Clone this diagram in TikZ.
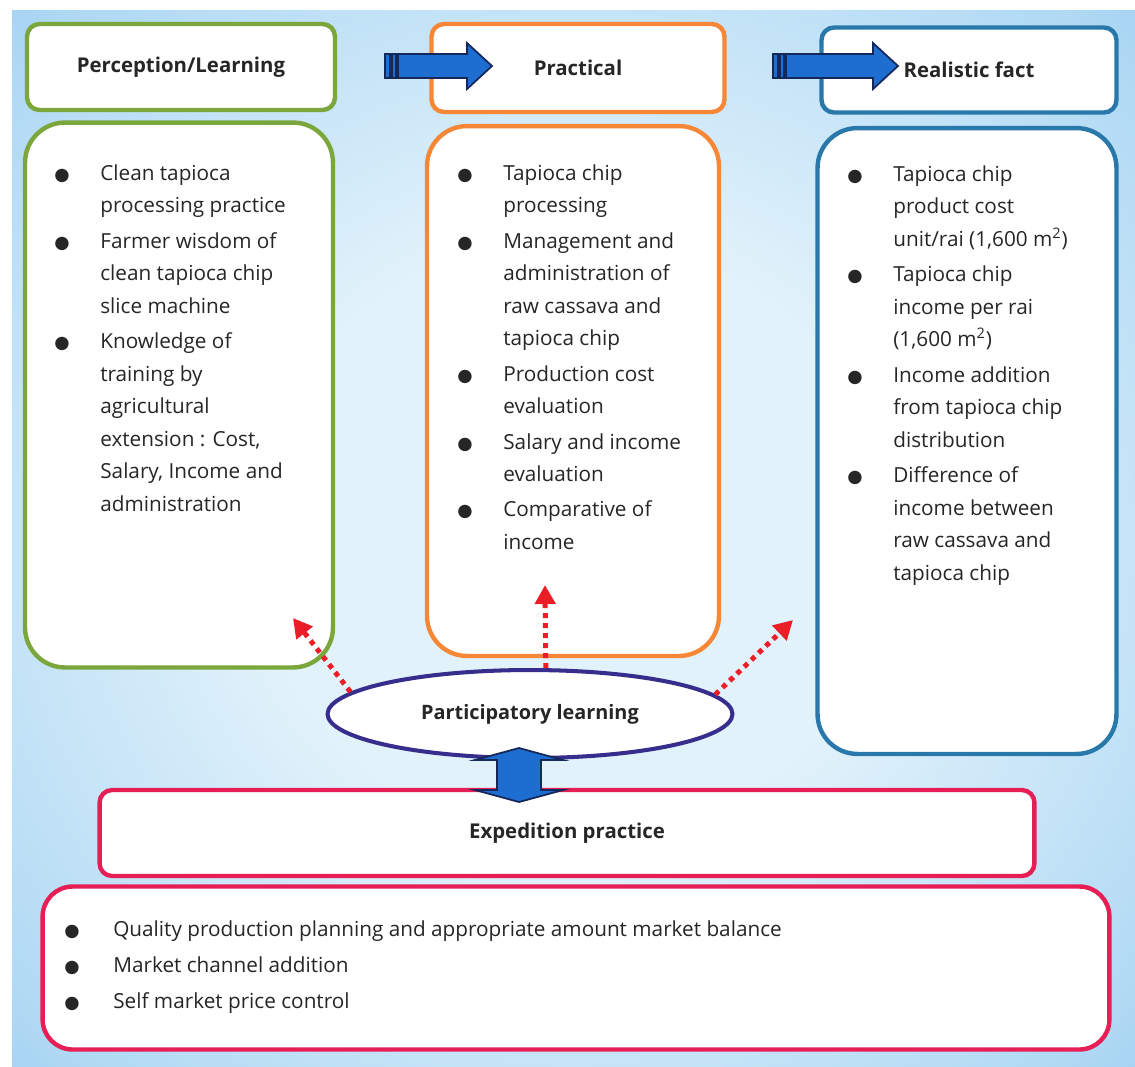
\documentclass[tikz,border=0pt]{standalone}
\usepackage{fontspec}
\setmainfont{Open Sans}
\newfontfamily\symfnt{DejaVu Sans}
\usetikzlibrary{arrows.meta,shapes.geometric}
\definecolor{leafgreen}{RGB}{122,166,60}
\definecolor{tangerine}{RGB}{245,135,55}
\definecolor{steelblue}{RGB}{40,120,170}
\definecolor{rosered}{RGB}{230,30,85}
\definecolor{ellnavy}{RGB}{55,45,140}
\definecolor{arrblue}{RGB}{30,110,210}
\definecolor{arrnavy}{RGB}{20,40,90}
\definecolor{dotred}{RGB}{235,30,40}
\definecolor{inktext}{RGB}{38,38,38}
\definecolor{bginner}{RGB}{226,242,251}
\definecolor{bgmid}{RGB}{176,217,244}
\definecolor{bgedge}{RGB}{115,183,231}
\definecolor{bgouter}{RGB}{75,155,216}
\pgfdeclareradialshading{bgglow}{\pgfpoint{0bp}{0bp}}{color(0bp)=(bginner); color(14bp)=(bginner); color(33bp)=(bgmid); color(50bp)=(bgedge); color(72bp)=(bgouter)}
\newcommand\bul{{\symfnt\fontsize{10pt}{10pt}\selectfont ●}}
\newcommand\stripearrow[2]{% tail coordinate, shaft length
  \filldraw[blockarr] (#1) ++(0,-12) rectangle ++(5,24);
  \filldraw[blockarr] (#1) ++(7,-12) rectangle ++(4,24);
  \filldraw[blockarr] (#1) ++(13,-12) -- ++(#2,0) -- ++(0,-11) -- ++(25,23) -- ++(-25,23) -- ++(0,-11) -- ++(-#2,0) -- cycle;}
\tikzset{
  hdr/.style={draw=#1, fill=white, line width=2.5pt, rounded corners=0.25cm, font=\fontsize{11.6pt}{14pt}\selectfont\bfseries},
  pane/.style={draw=#1, fill=white, line width=2.5pt, rounded corners=0.8cm},
  lst/.style={anchor=base west, inner sep=0pt, align=left, font=\fontsize{11.8pt}{18.5pt}\selectfont},
  dotarr/.style={draw=dotred, line width=0.1cm, dash pattern=on 0.1cm off 0.1cm, -{Triangle[length=0.38cm,width=0.4cm]}},
  blockarr/.style={fill=arrblue, draw=arrnavy, line width=1pt},
}

\begin{document}
\begin{tikzpicture}[x=0.02cm, y=-0.02cm, text=inktext]
  \useasboundingbox (0,0) rectangle (1135,1066);
  \fill[white] (0,0) rectangle (1135,1066);
  \shade[shading=bgglow] (12,10) rectangle (1135,1066);
  % headers
  \node[hdr=leafgreen, minimum width=6.16cm, minimum height=1.72cm] (perc) at (181,67) {Perception/Learning};
  \node[hdr=tangerine, minimum width=5.86cm, minimum height=1.76cm] (prac) at (578,68) {Practical};
  \node[hdr=steelblue, minimum width=5.9cm, minimum height=1.7cm] (real) at (969,70) {Realistic fact};
  % panes
  \node[pane=leafgreen, minimum width=6.16cm, minimum height=10.9cm] (percpane) at (179,395) {};
  \node[pane=tangerine, minimum width=5.84cm, minimum height=10.6cm] (pracpane) at (573,391) {};
  \node[pane=steelblue, minimum width=5.98cm, minimum height=12.52cm] (realpane) at (967,441) {};
  \node[lst] (perclist) at (54,180) {\begin{tabular}[t]{@{}p{0.92cm}@{}l@{}}
    \bul & Clean tapioca\\ & processing practice\\[1.7pt]
    \bul & Farmer wisdom of\\ & clean tapioca chip\\ & slice machine\\[1.7pt]
    \bul & Knowledge of\\ & training by\\ & agricultural\\ & extension : Cost,\\ & Salary, Income and\\ & administration
  \end{tabular}};
  \node[lst] (praclist) at (457,180) {\begin{tabular}[t]{@{}p{0.92cm}@{}l@{}}
    \bul & Tapioca chip\\ & processing\\[1.7pt]
    \bul & Management and\\ & administration of\\ & raw cassava and\\ & tapioca chip\\[1.7pt]
    \bul & Production cost\\ & evaluation\\[1.7pt]
    \bul & Salary and income\\ & evaluation\\[1.7pt]
    \bul & Comparative of\\ & income
  \end{tabular}};
  \node[lst] (reallist) at (847,181) {\begin{tabular}[t]{@{}p{0.92cm}@{}l@{}}
    \bul & Tapioca chip\\ & product cost\\ & unit/rai (1,600 m\textsuperscript{2})\\[1.7pt]
    \bul & Tapioca chip\\ & income per rai\\ & (1,600 m\textsuperscript{2})\\[1.7pt]
    \bul & Income addition\\ & from tapioca chip\\ & distribution\\[1.7pt]
    \bul & Difference of\\ & income between\\ & raw cassava and\\ & tapioca chip
  \end{tabular}};
  % expedition
  \node[hdr=rosered, minimum width=18.7cm, minimum height=1.72cm] (exped) at (567,833) {Expedition practice};
  \node[pane=rosered, rounded corners=0.6cm, minimum width=21.34cm, minimum height=3.26cm] (market) at (576,968) {};
  \node[lst] (marketlist) at (64,936) {\begin{tabular}[t]{@{}p{0.98cm}@{}l@{}}
    \bul & Quality production planning and appropriate amount market balance\\[2pt]
    \bul & Market channel addition\\[2pt]
    \bul & Self market price control
  \end{tabular}};
  % participatory learning
  \node[draw=ellnavy, fill=white, line width=2.3pt, ellipse, minimum width=8.1cm, minimum height=1.76cm, font=\fontsize{11.3pt}{14pt}\selectfont\bfseries] (plearn) at (530,714) {Participatory learning};
  \coordinate (tipL) at (293,618);
  \coordinate (tipM) at (545,585);
  \coordinate (tipR) at (793,620);
  \draw[dotarr] (plearn.173) -- (tipL);
  \draw[dotarr] (plearn.71) -- (tipM);
  \draw[dotarr] (plearn.6) -- (tipR);
  \coordinate (dtop) at (519,748);
  \filldraw[blockarr] (dtop) -- ++(44,12) -- ++(-22,0) -- ++(0,30) -- ++(22,0) -- ++(-44,12) -- ++(-44,-12) -- ++(22,0) -- ++(0,-30) -- ++(-22,0) -- cycle;
  % arrows between headers
  \coordinate (arrA) at (385,66);
  \coordinate (arrB) at (773,66);
  \stripearrow{arrA}{69}
  \stripearrow{arrB}{87}
\end{tikzpicture}
\end{document}
